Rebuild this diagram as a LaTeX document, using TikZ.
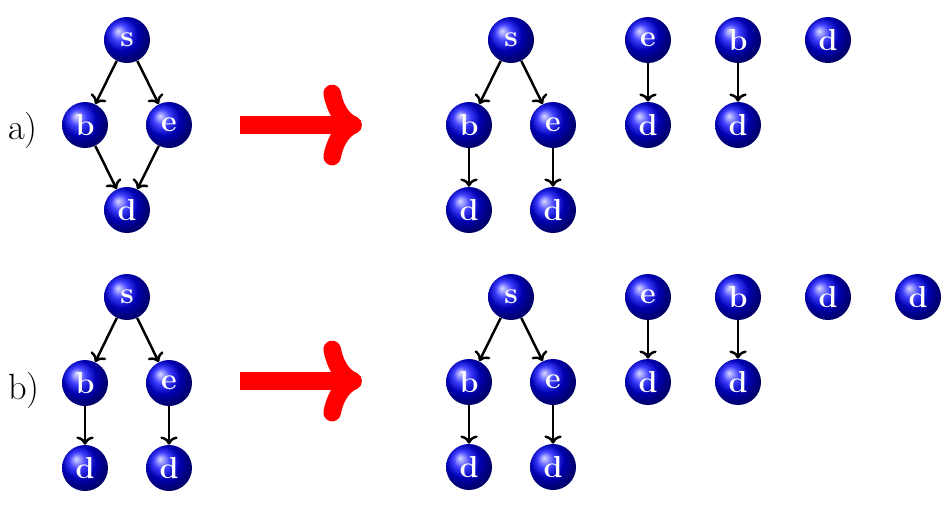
\documentclass[tikz,border=0pt]{standalone}
\usepackage{tikz}
\usetikzlibrary{shadings,arrows.meta}

\tikzset{
  vert/.style={circle, ball color=blue, text=white, font=\LARGE\bfseries,
    minimum size=0.92cm, inner sep=0pt},
  edge/.style={->, line width=1.4pt},
  bigarrow/.style={-{Computer Modern Rightarrow[length=22pt,width=46pt,line width=10pt]},
    red, line width=10.5pt},
  caselabel/.style={font=\huge, anchor=west}
}

\begin{document}
\begin{tikzpicture}[x=0.02cm,y=-0.02cm]
    \useasboundingbox (0,0) rectangle (952,505);
    % Labels
    \node[caselabel] (la) at (2,130) {a)};
    \node[caselabel] (lb) at (2,390) {b)};
    % Case a: input graph
    \node[vert] (as) at (127,40) {s};
    \node[vert] (ab) at (85,125) {b};
    \node[vert] (ae) at (169,125) {e};
    \node[vert] (ad) at (127,210) {d};
    \draw[edge] (as) -- (ab);
    \draw[edge] (as) -- (ae);
    \draw[edge] (ab) -- (ad);
    \draw[edge] (ae) -- (ad);
    % Case b: input graph
    \node[vert] (bs) at (127,297) {s};
    \node[vert] (bb) at (85,383) {b};
    \node[vert] (be) at (169,383) {e};
    \node[vert] (bd1) at (85,468) {d};
    \node[vert] (bd2) at (169,468) {d};
    \draw[edge] (bs) -- (bb);
    \draw[edge] (bs) -- (be);
    \draw[edge] (bb) -- (bd1);
    \draw[edge] (be) -- (bd2);
    % Big arrows
    \coordinate (fa) at (240,125);
    \coordinate (ta) at (362,125);
    \coordinate (fb) at (240,381);
    \coordinate (tb) at (362,381);
    \draw[bigarrow] (fa) -- (ta);
    \draw[bigarrow] (fb) -- (tb);
    % Result trees
    \foreach \r/\y in {a/40,b/297} {
      \node[vert] (\r rs) at (511,\y) {s};
      \node[vert] (\r rb) at (469,\y+85) {b};
      \node[vert] (\r re) at (553,\y+85) {e};
      \node[vert] (\r rbd) at (469,\y+170) {d};
      \node[vert] (\r red) at (553,\y+170) {d};
      \draw[edge] (\r rs) -- (\r rb);
      \draw[edge] (\r rs) -- (\r re);
      \draw[edge] (\r rb) -- (\r rbd);
      \draw[edge] (\r re) -- (\r red);
      \node[vert] (\r te) at (648,\y) {e};
      \node[vert] (\r ted) at (648,\y+85) {d};
      \node[vert] (\r tb) at (738,\y) {b};
      \node[vert] (\r tbd) at (738,\y+85) {d};
      \node[vert] (\r td) at (828,\y) {d};
      \draw[edge] (\r te) -- (\r ted);
      \draw[edge] (\r tb) -- (\r tbd);
    }
    \node[vert] (btd2) at (918,297) {d};
\end{tikzpicture}
\end{document}
